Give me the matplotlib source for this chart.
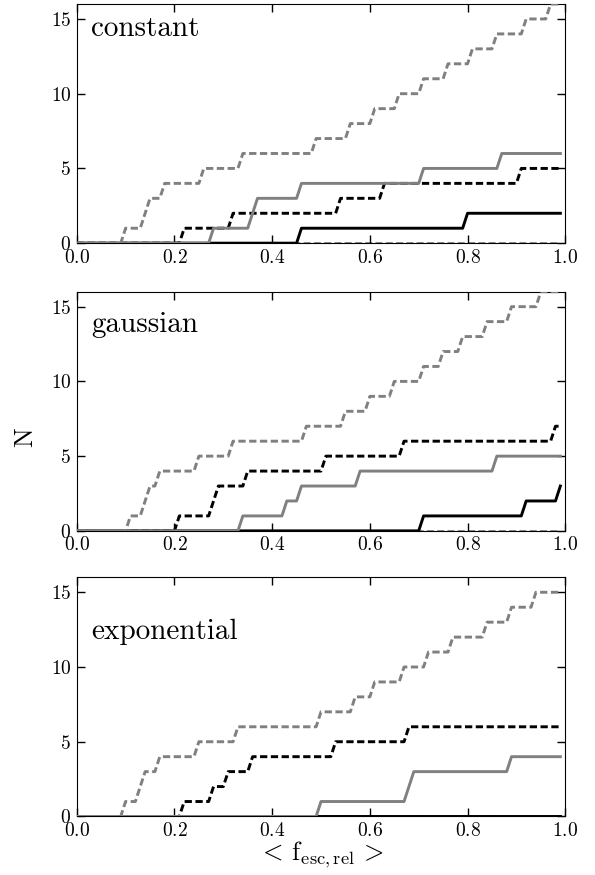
import numpy as np
import matplotlib
matplotlib.use("Agg")
import matplotlib.pyplot as plt

plt.rcParams['font.family'] = 'serif'
plt.rcParams['font.serif'] = ['cmr10']
plt.rcParams['mathtext.fontset'] = 'cm'
plt.rcParams['axes.formatter.use_mathtext'] = True

# positions (in <f_esc,rel>) where each cumulative count goes up by one
panel_names = ["constant", "gaussian", "exponential"]

grey_dashed = [
    [0.10, 0.14, 0.15, 0.18, 0.255, 0.335, 0.485, 0.555, 0.605, 0.655, 0.705, 0.757, 0.805, 0.857, 0.917, 0.962],
    [0.102, 0.135, 0.145, 0.166, 0.247, 0.317, 0.467, 0.545, 0.595, 0.646, 0.709, 0.748, 0.789, 0.839, 0.888, 0.95],
    [0.092, 0.128, 0.138, 0.164, 0.244, 0.327, 0.496, 0.561, 0.607, 0.669, 0.719, 0.768, 0.837, 0.888, 0.938],
]
grey_solid = [
    [0.272, 0.355, 0.365, 0.456, 0.706, 0.87],
    [0.334, 0.424, 0.454, 0.574, 0.858],
    [0.493, 0.675, 0.685, 0.888],
]
black_dashed = [
    [0.214, 0.317, 0.54, 0.628, 0.909],
    [0.204, 0.275, 0.29, 0.344, 0.505, 0.666, 0.975],
    [0.213, 0.274, 0.305, 0.358, 0.526, 0.677],
]
black_solid = [
    [0.456, 0.796],
    [0.707, 0.919, 0.981],
    [],
]
zero_dashed = [[], [], []]

text_y = [0.866, 0.832, 0.743]

xgrid = np.arange(0, 1.0, 0.01)


def cumul(events):
    ev = np.sort(np.array(events, dtype=float))
    return np.searchsorted(ev, xgrid, side='right')


fig = plt.figure(figsize=(5.95, 8.75), dpi=100)
tops = [0.9954, 0.6666, 0.3402]
h = 0.2733
axes = []
for i in range(3):
    ax = fig.add_axes([0.129, tops[i] - h, 0.821, h])
    axes.append(ax)
    dash = (2.5, 1.2)
    ax.plot(xgrid, cumul(zero_dashed[i]), color='grey', lw=2, dashes=dash, zorder=1)
    ax.plot(xgrid, cumul(black_solid[i]), color='black', lw=2.1, zorder=2)
    ax.plot(xgrid, cumul(black_dashed[i]), color='black', lw=2.1, dashes=dash, zorder=3)
    ax.plot(xgrid, cumul(grey_solid[i]), color='grey', lw=2.1, zorder=3)
    ax.plot(xgrid, cumul(grey_dashed[i]), color='grey', lw=2.1, dashes=dash, zorder=3)
    ax.set_xlim(0, 1)
    ax.set_ylim(0, 16)
    ax.set_xticks([0.0, 0.2, 0.4, 0.6, 0.8, 1.0])
    ax.set_yticks([0, 5, 10, 15])
    ax.tick_params(direction='in', top=True, right=True, length=6, width=1, labelsize=14, pad=4)
    ax.text(0.03, text_y[i], panel_names[i], transform=ax.transAxes, fontsize=21, va='baseline')

axes[2].set_xlabel(r'$<\,\mathrm{f}_{\mathrm{esc,rel}}\,>$', fontsize=19, labelpad=0)
fig.text(0.042, 0.5, 'N', rotation=90, fontsize=19, va='center', ha='center')

fig.savefig('out.png', dpi=100)
